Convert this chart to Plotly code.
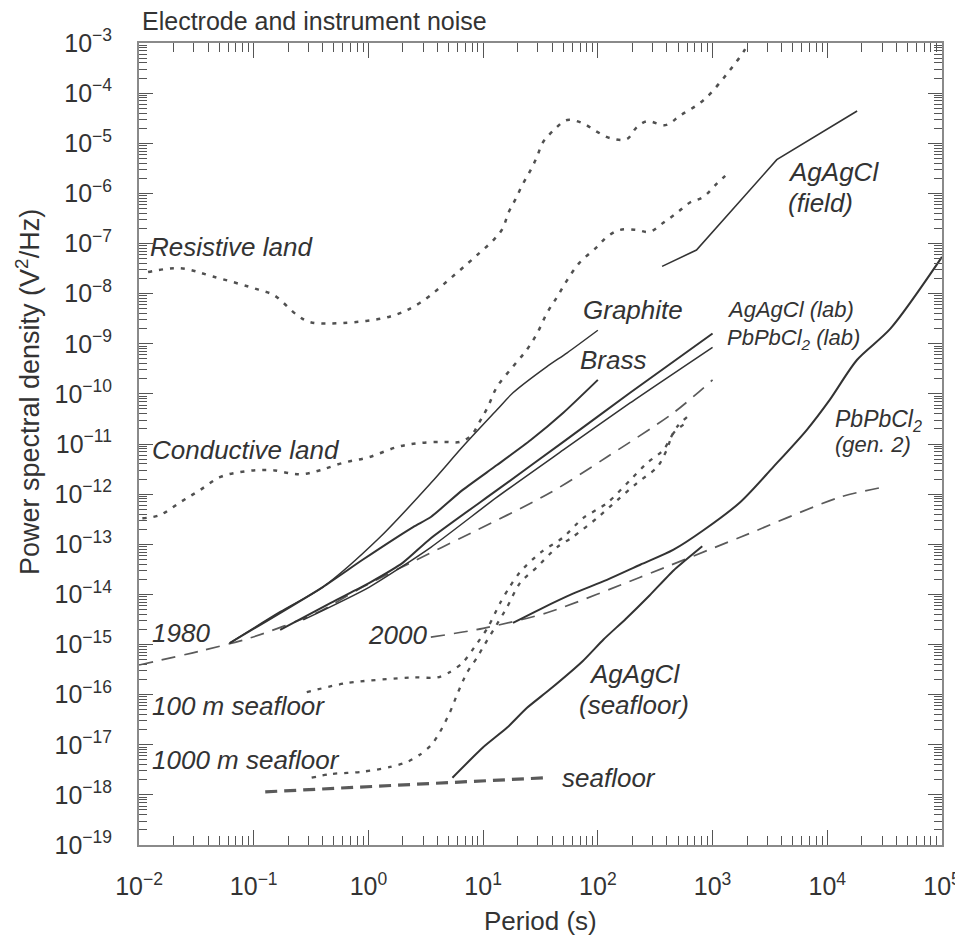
import plotly.graph_objects as go

# ---------------- data (period in s, PSD in V^2/Hz) ----------------
resistive_T = [0.012, 0.023, 0.044, 0.11, 0.15, 0.24, 0.31, 0.60, 1.55, 2.8, 5.9, 9.3, 12.3, 14.8, 16.6, 19, 22, 26, 29.5, 33, 41, 54, 74, 98, 129, 178, 219, 269, 389, 525, 832, 1350, 1900, 2040]
resistive_P = [2.7e-8, 3.2e-8, 2.2e-8, 1.2e-8, 9.3e-9, 3.7e-9, 2.7e-9, 2.6e-9, 3.5e-9, 6.5e-9, 2.6e-8, 6.5e-8, 1.17e-7, 2.0e-7, 4.1e-7, 7.4e-7, 1.48e-6, 2.95e-6, 5.4e-6, 1.02e-5, 1.8e-5, 2.9e-5, 2.5e-5, 1.7e-5, 1.26e-5, 1.2e-5, 2.1e-5, 2.75e-5, 2.3e-5, 3.6e-5, 7.2e-5, 2.5e-4, 7.2e-4, 1.0e-3]

conductive_T = [0.0107, 0.0151, 0.0229, 0.0339, 0.0513, 0.0759, 0.107, 0.148, 0.209, 0.269, 0.38, 0.60, 1.02, 1.78, 2.8, 4.5, 6.3, 7.9, 9.3, 11.0, 13.2, 18.2, 24, 29.5, 36, 44, 54, 69, 98, 120, 155, 219, 282, 372, 490, 631, 832, 1100, 1410]
conductive_P = [3.3e-13, 3.8e-13, 6.9e-13, 1.2e-12, 2.2e-12, 2.75e-12, 3.0e-12, 3.0e-12, 2.6e-12, 2.5e-12, 3.0e-12, 4.2e-12, 5.5e-12, 8.7e-12, 1.05e-11, 1.1e-11, 1.1e-11, 1.5e-11, 2.75e-11, 5.5e-11, 1.38e-10, 3.5e-10, 7.6e-10, 1.6e-9, 4.1e-9, 8.5e-9, 1.86e-8, 4.1e-8, 8.5e-8, 1.35e-7, 1.86e-7, 1.86e-7, 1.7e-7, 2.6e-7, 4.1e-7, 6.5e-7, 8.5e-7, 1.6e-6, 2.7e-6]

sea100_T = [0.29, 0.65, 2.45, 4.0, 5.1, 6.6, 8.9, 11, 14.1, 17, 21, 31.6, 50, 74, 120, 191, 269, 372, 490, 603]
sea100_P = [1.12e-16, 1.7e-16, 2.2e-16, 2.2e-16, 2.8e-16, 4.3e-16, 1.07e-15, 2.2e-15, 6.8e-15, 1.4e-14, 2.8e-14, 6.8e-14, 1.38e-13, 3.3e-13, 6.6e-13, 1.9e-12, 4.2e-12, 7.6e-12, 2.2e-11, 3.5e-11]

sea1000_T = [0.32, 0.47, 0.89, 1.55, 2.2, 2.8, 3.55, 4.2, 5.1, 6.0, 7.2, 8.9, 10, 12.3, 16.2, 21, 29.5, 44, 60, 98, 148, 219, 331, 398, 457, 603]
sea1000_P = [2.2e-18, 2.6e-18, 2.9e-18, 3.6e-18, 4.6e-18, 6.3e-18, 1.0e-17, 1.8e-17, 4.3e-17, 1.07e-16, 2.7e-16, 5.6e-16, 8.9e-16, 1.95e-15, 5.6e-15, 1.7e-14, 3.5e-14, 8.7e-14, 1.38e-13, 3.3e-13, 7.6e-13, 1.66e-12, 3.5e-12, 7.6e-12, 1.66e-11, 2.75e-11]

noise1980_T = [0.01, 0.034, 0.093, 0.355, 0.89, 2.63, 6.6, 38, 120, 457, 1000]
noise1980_P = [3.9e-16, 7.4e-16, 1.35e-15, 4.3e-15, 1.4e-14, 4.9e-14, 1.38e-13, 1.05e-12, 5.5e-12, 4.2e-11, 1.9e-10]

noise2000_T = [3.5, 10, 36, 234, 1740, 12900, 30900]
noise2000_P = [1.4e-15, 2.1e-15, 4.3e-15, 2.2e-14, 1.38e-13, 8.7e-13, 1.38e-12]

seafloor_T = [0.126, 5.4, 36]
seafloor_P = [1.15e-18, 1.74e-18, 2.2e-18]

graphite_T = [0.0617, 0.17, 0.40, 1.26, 3.5, 6.6, 13.2, 18.2, 36, 54, 100]
graphite_P = [1.07e-15, 4.5e-15, 1.4e-14, 1.38e-13, 1.66e-12, 8.7e-12, 4.8e-11, 1.05e-10, 3.5e-10, 6.6e-10, 1.86e-9]

brass_T = [0.0617, 0.40, 0.89, 2.45, 3.5, 6.6, 13.2, 26, 50, 100]
brass_P = [1.07e-15, 1.4e-14, 4.9e-14, 2.2e-13, 3.5e-13, 1.2e-12, 3.8e-12, 1.2e-11, 4.2e-11, 1.9e-10]

agcl_lab_T = [0.17, 0.47, 1.02, 2.0, 3.5, 13.2, 50, 191, 1000]
agcl_lab_P = [1.95e-15, 6.8e-15, 1.7e-14, 4.3e-14, 1.32e-13, 1.2e-12, 1.1e-11, 1.05e-10, 1.6e-9]

pbcl_lab_T = [0.27, 1.02, 3.5, 13.2, 50, 191, 1000]
pbcl_lab_P = [3.1e-15, 1.4e-14, 8.7e-14, 8.7e-13, 7.6e-12, 6.6e-11, 8.5e-10]

agcl_field_T = [363, 724, 3630, 18200]
agcl_field_P = [3.5e-8, 7.4e-8, 4.7e-6, 4.4e-5]

pbcl_gen2_T = [18.2, 31.6, 60, 120, 234, 457, 832, 1740, 3390, 6610, 10500, 18200, 35500, 100000]
pbcl_gen2_P = [2.7e-15, 5.1e-15, 1.02e-14, 1.95e-14, 3.9e-14, 7.8e-14, 1.9e-13, 6.9e-13, 3.5e-12, 1.9e-11, 7.6e-11, 4.8e-10, 2.0e-9, 5.4e-8]

agcl_sea_T = [5.4, 10, 16.2, 24, 38, 74, 112, 174, 282, 457, 813]
agcl_sea_P = [2.2e-18, 8.9e-18, 2.2e-17, 5.4e-17, 1.26e-16, 4.7e-16, 1.26e-15, 3.2e-15, 9.5e-15, 3.0e-14, 9.1e-14]

x_tick_vals = [1e-2, 1e-1, 1e0, 1e1, 1e2, 1e3, 1e4, 1e5]
x_tick_text = ["10<sup>−2</sup>", "10<sup>−1</sup>", "10<sup>0</sup>", "10<sup>1</sup>",
               "10<sup>2</sup>", "10<sup>3</sup>", "10<sup>4</sup>", "10<sup>5</sup>"]
y_tick_vals = [10.0 ** (-e) for e in range(3, 20)]
y_tick_text = ["10<sup>−%d</sup>" % e for e in range(3, 20)]

# ---------------- styling ----------------
FONT = "Liberation Sans, Arial, sans-serif"
TXT = "#333333"
SOLID = "#333333"
DOT = "#505050"
DASH = "#5a5a5a"

fig = go.Figure()


def add(x, y, color, width, dash="solid", shape="spline", smoothing=0.8):
    fig.add_trace(go.Scatter(
        x=x, y=y, mode="lines", showlegend=False, hoverinfo="skip",
        line=dict(color=color, width=width, dash=dash, shape=shape, smoothing=smoothing)))


dot_style = "4px,7px"
add(resistive_T, resistive_P, DOT, 2.5, dot_style, smoothing=1.0)
add(conductive_T, conductive_P, DOT, 2.5, dot_style, smoothing=1.0)
add(sea100_T, sea100_P, DOT, 2.3, dot_style, smoothing=0.8)
add(sea1000_T, sea1000_P, DOT, 2.3, dot_style, smoothing=0.8)

add(noise1980_T, noise1980_P, DASH, 1.7, "14px,9px", smoothing=0.8)
add(noise2000_T, noise2000_P, DASH, 1.7, "14px,9px", smoothing=0.8)
add(seafloor_T, seafloor_P, DASH, 3.2, "12px,7px", shape="linear")

add(graphite_T, graphite_P, SOLID, 1.5, smoothing=0.8)
add(brass_T, brass_P, SOLID, 2.0, smoothing=0.6)
add(agcl_lab_T, agcl_lab_P, SOLID, 2.0, smoothing=0.6)
add(pbcl_lab_T, pbcl_lab_P, SOLID, 1.5, smoothing=0.6)
add(agcl_field_T, agcl_field_P, SOLID, 1.6, shape="linear")
add(pbcl_gen2_T, pbcl_gen2_P, SOLID, 2.0, smoothing=0.8)
add(agcl_sea_T, agcl_sea_P, SOLID, 2.0, smoothing=0.5)

# The page body has an 8px margin: the figure is placed at (8, 8) in the window.
OFF = 8
W, H = 955, 930
# plot area in window pixels
L, R, T, B = 139, 942, 43, 845


def pxx(p):
    return (p - L) / (R - L)


def pxy(p):
    return 1 - (p - T) / (B - T)


ann = []


def label(text, x, y, size=26, xanchor="left", italic=True, angle=0):
    ann.append(dict(
        text=("<i>%s</i>" % text) if italic else text, x=pxx(x), y=pxy(y),
        xref="paper", yref="paper", xanchor=xanchor, yanchor="middle",
        showarrow=False, textangle=angle,
        font=dict(family=FONT, size=size, color=TXT)))


label("Resistive land", 148, 247)
label("Conductive land", 150, 450)
label("Graphite", 581, 310)
label("Brass", 578, 360)
label("AgAgCl (lab)", 725, 309, size=22)
label("PbPbCl<sub>2</sub> (lab)", 725, 339, size=22)
label("AgAgCl", 786, 172)
label("(field)", 786, 203)
label("PbPbCl<sub>2</sub>", 833, 420, size=23)
label("(gen. 2)", 833, 444, size=22)
label("1980", 150, 633)
label("2000", 366, 635)
label("100 m seafloor", 150, 706)
label("1000 m seafloor", 150, 760)
label("AgAgCl", 634, 674, xanchor="center")
label("(seafloor)", 634, 705, xanchor="center")
label("seafloor", 560, 778)
label("Electrode and instrument noise", 140, 21, size=25, italic=False)
label("Period (s)", 540, 921, size=26, xanchor="center", italic=False)
ann.append(dict(text="Power spectral density (V<sup>2</sup>/Hz)", x=pxx(28), y=pxy(392),
                xref="paper", yref="paper", xanchor="center", yanchor="middle",
                showarrow=False, textangle=-90,
                font=dict(family=FONT, size=27, color=TXT)))

x_minor = [m * 10.0 ** e for e in range(-2, 5) for m in range(2, 10)]
y_minor = [m * 10.0 ** e for e in range(-19, -3) for m in range(2, 10)]

axis_common = dict(
    type="log", showgrid=False, zeroline=False, showline=True,
    linecolor="#8a8a8a", linewidth=2, mirror="ticks",
    ticks="inside", tickcolor="#555555", tickwidth=1.2,
    tickmode="array",
    tickfont=dict(family=FONT, size=25, color=TXT),
)

fig.update_layout(
    width=W, height=H,
    margin=dict(l=L - OFF, r=W - (R - OFF), t=T - OFF, b=H - (B - OFF), autoexpand=False),
    paper_bgcolor="white", plot_bgcolor="white",
    xaxis=dict(axis_common, range=[-2, 5], tickvals=x_tick_vals, ticktext=x_tick_text,
               ticklen=15, ticklabelstandoff=18,
               minor=dict(tickmode="array", tickvals=x_minor, ticks="inside", ticklen=9,
                          tickcolor="#555555", tickwidth=1, showgrid=False)),
    yaxis=dict(axis_common, range=[-19, -3], tickvals=y_tick_vals, ticktext=y_tick_text,
               ticklen=14, ticklabelstandoff=20,
               minor=dict(tickmode="array", tickvals=y_minor, ticks="inside", ticklen=8,
                          tickcolor="#555555", tickwidth=1, showgrid=False)),
    annotations=ann,
)

fig.write_html("out.html")
